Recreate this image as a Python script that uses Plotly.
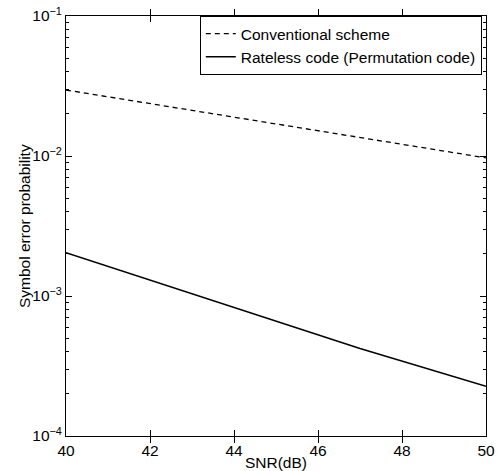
import plotly.graph_objects as go

snr_conv = [40, 50]
ser_conv = [0.0296, 0.0097]

snr_rateless = [40, 47, 50]
ser_rateless = [2.04e-3, 4.22e-4, 2.27e-4]

name_conv = "Conventional scheme"
name_rateless = "Rateless code (Permutation code)"

y_tick_vals = [1e-4, 1e-3, 1e-2, 1e-1]
y_tick_text = ["10<sup>−4</sup>", "10<sup>−3</sup>", "10<sup>−2</sup>", "10<sup>−1</sup>"]
x_tick_vals = [40, 42, 44, 46, 48, 50]

FONT = "Liberation Sans, Arial, Helvetica, sans-serif"
FS = 15.5

minor_y = [m * 10.0 ** e for e in (-4, -3, -2) for m in range(2, 10)]

fig = go.Figure()
fig.add_trace(go.Scatter(x=snr_conv, y=ser_conv, mode="lines", name=name_conv,
                         line=dict(color="black", width=1.3, dash="5px,4px")))
fig.add_trace(go.Scatter(x=snr_rateless, y=ser_rateless, mode="lines", name=name_rateless,
                         line=dict(color="black", width=1.5)))
# invisible trace bound to the minor-tick axis
fig.add_trace(go.Scatter(x=snr_conv, y=ser_conv, yaxis="y2", mode="lines",
                         line=dict(width=0), hoverinfo="skip", showlegend=False, opacity=0))

axis_common = dict(showline=True, linecolor="black", linewidth=1, mirror="allticks",
                   ticks="inside", ticklen=6, tickcolor="black", tickwidth=1,
                   showgrid=False, zeroline=False, automargin=False,
                   tickfont=dict(family=FONT, size=FS, color="black"))

fig.update_layout(
    xaxis=dict(range=[40, 50], tickmode="array", tickvals=x_tick_vals, ticklabelstandoff=0,
               title=dict(text="SNR(dB)", font=dict(family=FONT, size=FS, color="black"), standoff=4),
               **axis_common),
    yaxis=dict(type="log", range=[-4, -1], tickmode="array", tickvals=y_tick_vals,
               ticktext=y_tick_text, **axis_common),
    yaxis2=dict(type="log", range=[-4, -1], overlaying="y", side="left", anchor="x",
                tickmode="array", tickvals=minor_y, showticklabels=False, automargin=False,
                ticks="inside", ticklen=3, tickcolor="black", tickwidth=1,
                mirror="allticks", showline=False,
                showgrid=False, zeroline=False),
)

fig.add_annotation(text="Symbol error probability", textangle=-90,
                   xref="paper", yref="paper", x=0, y=0.5, xanchor="center", yanchor="middle",
                   xshift=-42, showarrow=False,
                   font=dict(family=FONT, size=FS, color="black"))

fig.update_layout(
    width=503, height=471,
    margin=dict(l=66, r=17, t=16, b=35, autoexpand=False),
    plot_bgcolor="white", paper_bgcolor="white",
    font=dict(family=FONT, size=FS, color="black"),
    showlegend=True,
    legend=dict(x=0.99, y=1.0, xanchor="right", yanchor="top",
                bordercolor="black", borderwidth=1, bgcolor="white",
                font=dict(family=FONT, size=FS, color="black"),
                tracegroupgap=0, itemwidth=30),
)

fig.write_html("out.html")
